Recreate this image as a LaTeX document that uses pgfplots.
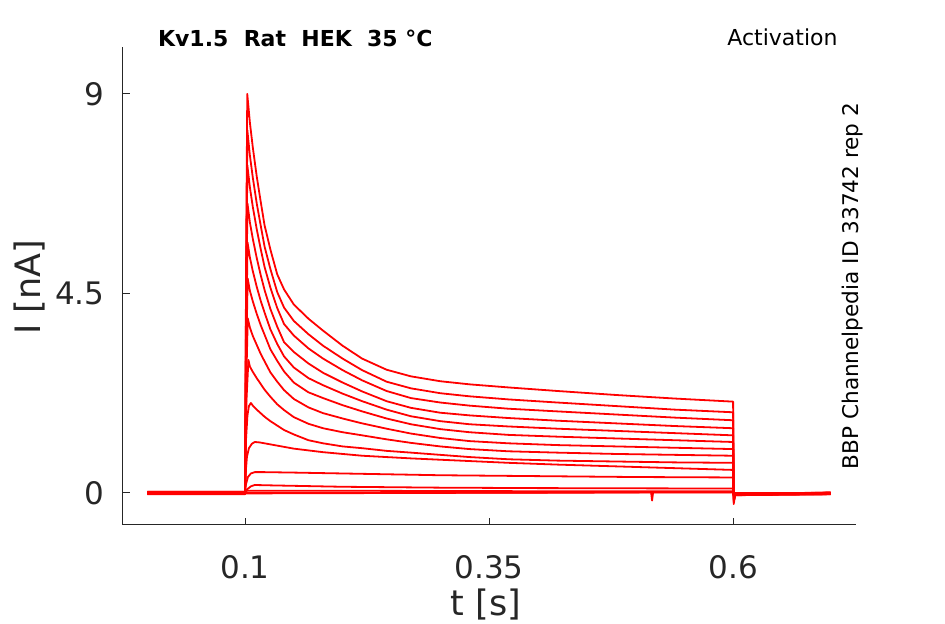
\documentclass[border=0pt]{standalone}
\usepackage{fontspec}
\setmainfont{DejaVu Sans}
\usepackage{pgfplots}
\pgfplotsset{compat=1.18}
\definecolor{axgray}{RGB}{38,38,38}
\begin{document}
\begin{tikzpicture}
\path[use as bounding box] (0,0) rectangle (472.5pt,312pt);
\begin{axis}[
  at={(61.35pt,49.5pt)}, anchor=south west,
  scale only axis, width=366.7pt, height=239.2pt,
  xmin=-0.0253, xmax=0.726, ymin=-0.722, ymax=10.067,
  axis lines=left,
  axis line style={-, draw=axgray, line width=0.5pt},
  tick align=inside, major tick length=3.6pt,
  tick style={draw=axgray, line width=0.5pt},
  xtick={0.1,0.35,0.6}, xticklabels={0.1,0.35,0.6},
  ytick={0,4.5,9}, yticklabels={0,4.5,9},
  /pgf/number format/assume math mode=true,
  tick label style={font=\fontsize{15.5}{16}\selectfont, text=axgray},
  xticklabel style={anchor=north, inner sep=0pt, yshift=-15pt},
  yticklabel style={anchor=east, inner sep=0pt, xshift=-9pt},
  every axis plot post/.append style={draw=red, solid, mark=none, line width=0.9pt, line join=round},
]
% large decaying traces
\addplot coordinates {(0,0.02)(0.1,0.02)(0.1012,5.5)(0.1023,9.0)(0.105,8.35)(0.108,7.79)(0.112,7.14)(0.116,6.58)(0.12,6.04)(0.126,5.49)(0.133,4.93)(0.14,4.59)(0.15,4.25)(0.165,3.93)(0.18,3.66)(0.2,3.32)(0.22,3.03)(0.245,2.78)(0.27,2.63)(0.3,2.52)(0.33,2.45)(0.37,2.38)(0.42,2.30)(0.48,2.21)(0.54,2.13)(0.6,2.06)(0.6006,-0.25)(0.602,-0.05)(0.7,-0.02)};
\addplot coordinates {(0,-0.01)(0.1,-0.01)(0.1012,5.0)(0.1024,8.18)(0.105,7.61)(0.108,7.11)(0.112,6.53)(0.116,6.04)(0.12,5.56)(0.126,5.05)(0.133,4.53)(0.14,4.18)(0.15,3.88)(0.165,3.58)(0.18,3.32)(0.2,3.03)(0.22,2.77)(0.245,2.51)(0.27,2.36)(0.3,2.25)(0.33,2.18)(0.37,2.11)(0.42,2.04)(0.48,1.96)(0.54,1.88)(0.6,1.82)(0.6006,-0.22)(0.602,-0.04)(0.7,0.01)};
\addplot coordinates {(0,0)(0.1,0)(0.1012,4.6)(0.1024,7.39)(0.105,6.89)(0.108,6.45)(0.112,5.95)(0.116,5.51)(0.12,5.10)(0.126,4.63)(0.133,4.17)(0.14,3.81)(0.15,3.55)(0.165,3.26)(0.18,3.03)(0.2,2.77)(0.22,2.54)(0.245,2.30)(0.27,2.14)(0.3,2.04)(0.33,1.97)(0.37,1.90)(0.42,1.84)(0.48,1.77)(0.54,1.70)(0.6,1.64)(0.6006,-0.2)(0.602,-0.05)(0.7,-0.03)};
\addplot coordinates {(0,0.03)(0.1,0.03)(0.1012,4.1)(0.1025,6.53)(0.105,6.10)(0.108,5.73)(0.112,5.30)(0.116,4.92)(0.12,4.58)(0.126,4.15)(0.133,3.75)(0.14,3.40)(0.15,3.18)(0.165,2.92)(0.18,2.71)(0.2,2.49)(0.22,2.29)(0.245,2.07)(0.27,1.92)(0.3,1.81)(0.33,1.75)(0.37,1.69)(0.42,1.63)(0.48,1.57)(0.54,1.51)(0.6,1.46)(0.6006,-0.18)(0.602,-0.03)(0.7,0.0)};
\addplot coordinates {(0,-0.02)(0.1,-0.02)(0.1013,3.6)(0.1026,5.65)(0.105,5.31)(0.108,5.00)(0.112,4.65)(0.116,4.34)(0.12,4.07)(0.126,3.69)(0.133,3.36)(0.14,3.08)(0.15,2.83)(0.165,2.59)(0.18,2.43)(0.2,2.24)(0.22,2.07)(0.245,1.88)(0.27,1.73)(0.3,1.62)(0.33,1.55)(0.37,1.50)(0.42,1.45)(0.48,1.40)(0.54,1.35)(0.6,1.30)(0.6006,-0.16)(0.602,-0.04)(0.7,-0.02)};
\addplot coordinates {(0,0.01)(0.1,0.01)(0.1013,3.1)(0.1027,4.84)(0.105,4.56)(0.108,4.32)(0.112,4.04)(0.116,3.79)(0.12,3.57)(0.126,3.24)(0.133,2.98)(0.14,2.74)(0.15,2.49)(0.165,2.27)(0.18,2.14)(0.2,1.98)(0.22,1.84)(0.245,1.68)(0.27,1.55)(0.3,1.44)(0.33,1.37)(0.37,1.31)(0.42,1.27)(0.48,1.23)(0.54,1.19)(0.6,1.15)(0.6006,-0.15)(0.602,-0.03)(0.7,0.01)};
\addplot coordinates {(0,-0.03)(0.1,-0.03)(0.1014,2.6)(0.1028,3.94)(0.105,3.73)(0.108,3.54)(0.112,3.34)(0.116,3.14)(0.12,2.97)(0.126,2.72)(0.133,2.51)(0.14,2.32)(0.15,2.12)(0.165,1.93)(0.18,1.80)(0.2,1.68)(0.22,1.57)(0.245,1.45)(0.27,1.34)(0.3,1.24)(0.33,1.17)(0.37,1.12)(0.42,1.08)(0.48,1.05)(0.54,1.02)(0.6,0.99)(0.6006,-0.13)(0.602,-0.04)(0.7,-0.03)};
\addplot coordinates {(0,0.02)(0.1,0.02)(0.1015,2.1)(0.1035,3.0)(0.105,2.85)(0.108,2.73)(0.112,2.59)(0.116,2.46)(0.12,2.33)(0.126,2.17)(0.133,2.00)(0.14,1.87)(0.15,1.71)(0.165,1.56)(0.18,1.46)(0.2,1.37)(0.22,1.30)(0.245,1.21)(0.27,1.13)(0.3,1.05)(0.33,0.99)(0.37,0.94)(0.42,0.91)(0.48,0.88)(0.54,0.86)(0.6,0.84)(0.6006,-0.12)(0.602,-0.03)(0.7,0.0)};
\addplot coordinates {(0,0)(0.1,0)(0.101,1.2)(0.1025,1.75)(0.104,1.96)(0.106,2.03)(0.108,1.97)(0.112,1.88)(0.116,1.80)(0.12,1.72)(0.126,1.62)(0.133,1.52)(0.14,1.42)(0.15,1.32)(0.165,1.19)(0.18,1.12)(0.2,1.05)(0.22,1.01)(0.245,0.95)(0.27,0.91)(0.3,0.86)(0.33,0.81)(0.37,0.76)(0.42,0.73)(0.48,0.71)(0.54,0.69)(0.6,0.68)(0.6006,-0.1)(0.602,-0.03)(0.7,-0.02)};
\addplot coordinates {(0,-0.01)(0.1,-0.01)(0.101,0.55)(0.102,0.82)(0.104,1.01)(0.107,1.11)(0.11,1.15)(0.115,1.14)(0.12,1.12)(0.13,1.08)(0.14,1.04)(0.15,1.0)(0.165,0.96)(0.18,0.92)(0.2,0.88)(0.22,0.84)(0.245,0.81)(0.27,0.78)(0.3,0.75)(0.33,0.72)(0.37,0.68)(0.42,0.64)(0.48,0.60)(0.54,0.56)(0.6,0.52)(0.6006,-0.09)(0.602,-0.02)(0.7,0.01)};
% small traces
\addplot coordinates {(0,0.03)(0.1,0.03)(0.101,0.2)(0.103,0.36)(0.106,0.44)(0.11,0.47)(0.12,0.47)(0.15,0.46)(0.2,0.44)(0.25,0.42)(0.3,0.40)(0.35,0.39)(0.4,0.38)(0.5,0.36)(0.6,0.35)(0.6006,-0.07)(0.602,-0.02)(0.7,-0.01)};
\addplot coordinates {(0,-0.02)(0.1,-0.02)(0.102,0.08)(0.106,0.15)(0.11,0.18)(0.13,0.17)(0.2,0.14)(0.3,0.12)(0.4,0.11)(0.6,0.10)(0.6006,-0.06)(0.602,-0.02)(0.7,-0.02)};
% near-zero traces
\addplot coordinates {(0,0.01)(0.1,0.01)(0.102,0.05)(0.2,0.05)(0.4,0.04)(0.6,0.04)(0.6006,-0.05)(0.602,0.0)(0.7,0.0)};
\addplot coordinates {(0,-0.01)(0.1,-0.01)(0.6,0.02)(0.6006,-0.03)(0.7,-0.01)};
\addplot coordinates {(0,0.0)(0.1,0.0)(0.516,0.01)(0.517,-0.17)(0.518,0.01)(0.6,0.01)(0.6006,-0.02)(0.7,0.0)};
\end{axis}
\node[font=\fontsize{17.5}{18}\selectfont, text=axgray, anchor=base] at (243pt,4pt) {t [s]};
\node[font=\fontsize{17.5}{18}\selectfont, text=axgray, rotate=90, anchor=center] at (15pt,168.5pt) {I [nA]};
\node[font=\fontsize{11}{12}\selectfont\bfseries, anchor=base west] at (75.5pt,288.6pt) {Kv1.5\ \ Rat\ \ HEK\ \ 35\ °C};
\node[font=\fontsize{11}{12}\selectfont, anchor=base] at (391.25pt,289pt) {Activation};
\node[font=\fontsize{10.8}{12}\selectfont, rotate=90, anchor=base] at (429pt,169pt) {BBP Channelpedia ID 33742 rep 2};
\end{tikzpicture}
\end{document}
